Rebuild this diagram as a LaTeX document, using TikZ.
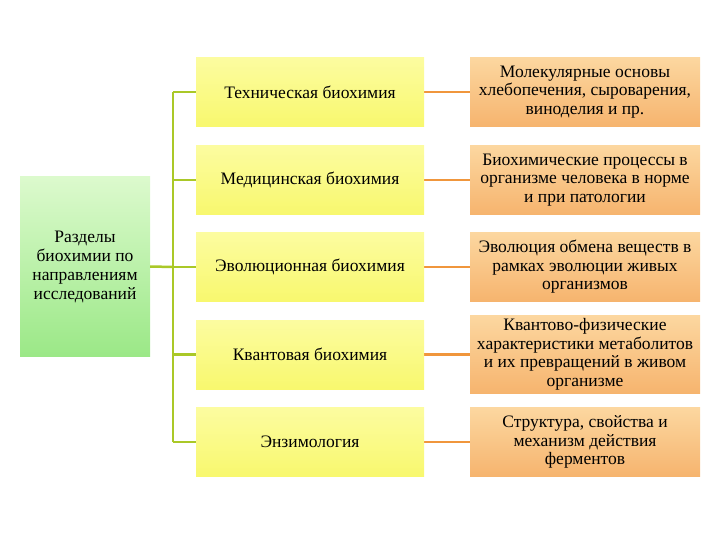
\documentclass[tikz,border=0pt]{standalone}
\usepackage{fontspec}
\setmainfont{Liberation Serif}
\begin{document}
\begin{tikzpicture}[x=1pt,y=-1pt,
  gbox/.style={draw=none,top color={rgb,255:red,220;green,250;blue,205},bottom color={rgb,255:red,155;green,232;blue,135},minimum width=130pt,minimum height=179pt,align=center,font=\fontsize{17.5}{19}\selectfont},
  ybox/.style={draw=none,top color={rgb,255:red,252;green,252;blue,160},bottom color={rgb,255:red,248;green,248;blue,110},minimum width=228pt,minimum height=69pt,align=center,font=\fontsize{17.5}{19}\selectfont},
  obox/.style={draw=none,top color={rgb,255:red,252;green,215;blue,160},bottom color={rgb,255:red,246;green,180;blue,110},minimum width=230pt,minimum height=69pt,align=center,font=\fontsize{17.5}{18.5}\selectfont},
  gline/.style={draw={rgb,255:red,170;green,200;blue,40},line width=2.5pt},
  oline/.style={draw={rgb,255:red,240;green,150;blue,60},line width=2.5pt}]
\useasboundingbox (0,0) rectangle (720,540);
\node[gbox] (L) at (85,266.5) {Разделы\\биохимии по\\направлениям\\исследований};
\coordinate (V1) at (173,92);
\coordinate (V5) at (173,442);
\coordinate (VL) at (173,267);
\foreach \i/\y/\m/\r in {1/92/Техническая биохимия/{Молекулярные основы\\хлебопечения, сыроварения,\\виноделия и пр.},
  2/180/Медицинская биохимия/{Биохимические процессы в\\организме человека в норме\\и при патологии},
  3/267/Эволюционная биохимия/{Эволюция обмена веществ в\\рамках эволюции живых\\организмов},
  4/354.5/Квантовая биохимия/{Квантово-физические\\характеристики метаболитов\\и их превращений в живом\\организме},
  5/442/Энзимология/{Структура, свойства и\\механизм действия\\ферментов}}{
  \draw[gline] (173,\y) -- (196,\y);
  \draw[oline] (424,\y) -- (470,\y);
  \node[ybox] (M\i) at (310,\y) {\m};
  \node[obox] (R\i) at (585,\y) {\r};
}
\draw[gline] (V1) -- (V5);
\draw[gline] (L.east) -- (VL);
\end{tikzpicture}
\end{document}
